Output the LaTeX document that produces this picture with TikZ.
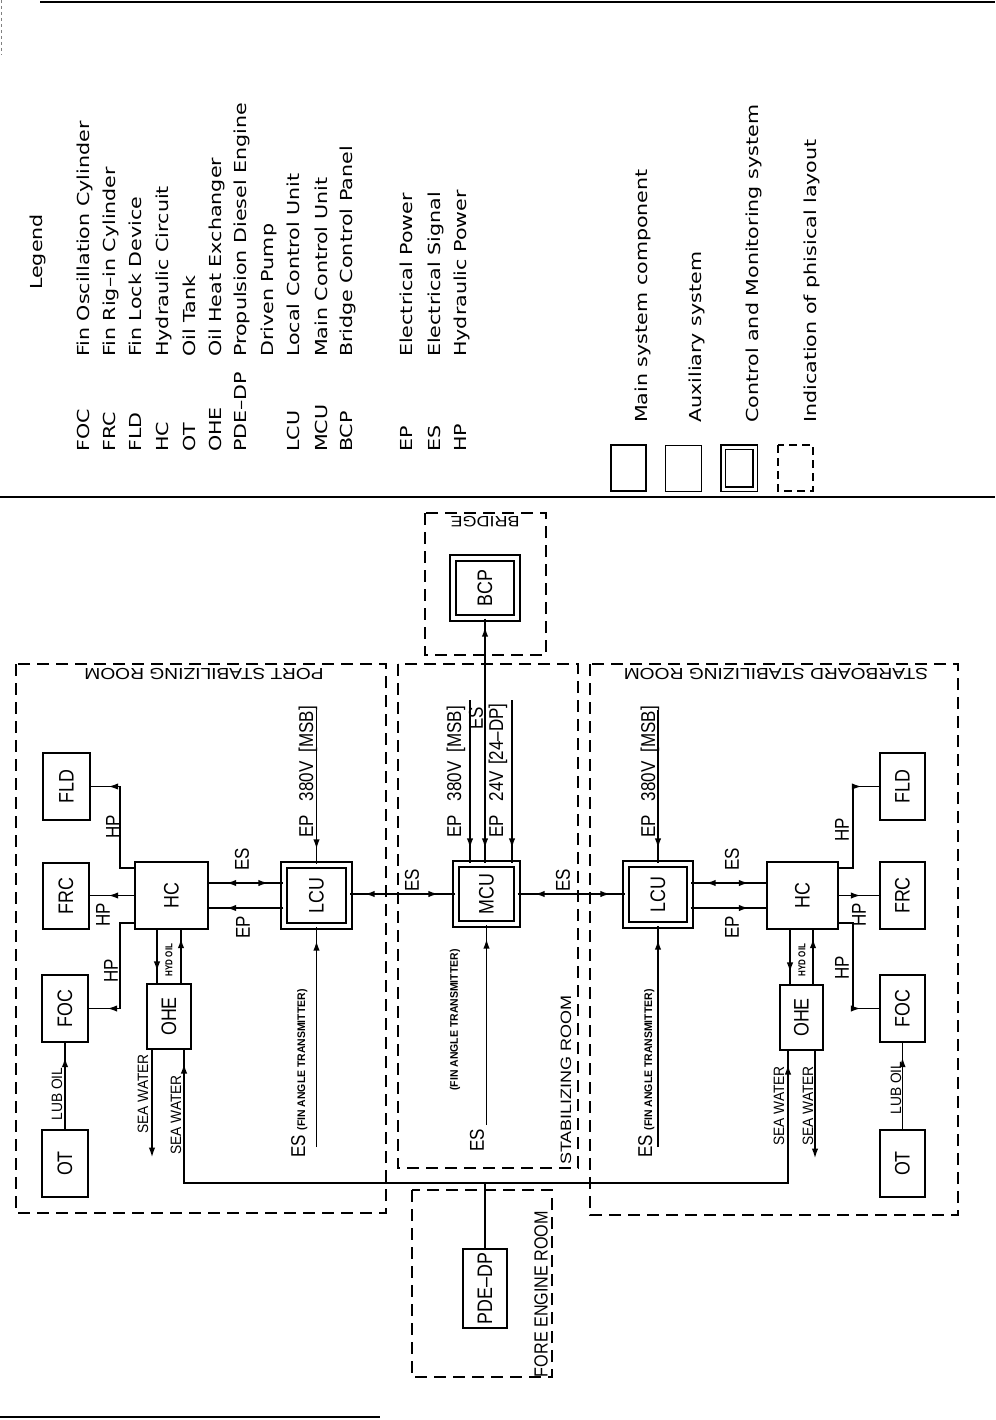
\documentclass[tikz,border=0pt]{standalone}
\usepackage{fontspec}
\usepackage{graphicx}
\usetikzlibrary{arrows.meta,decorations.markings}
\newfontfamily\cadf{Liberation Sans}[FakeStretch=0.85]
\newfontfamily\roomf{Liberation Sans}[FakeStretch=1.2]
\newfontfamily\legf{DejaVu Sans}[FakeStretch=1.25]
\newfontfamily\smf{Liberation Sans}[FakeStretch=0.95]
\newfontfamily\smnf{Liberation Sans}[FakeStretch=0.8]
\newfontfamily\swf{Liberation Sans}[FakeStretch=0.92]
\newcommand\bxf{\cadf\fontsize{21}{21}\selectfont}
\newcommand\lbf{\cadf\fontsize{20}{20}\selectfont}
\newcommand\fat{{\smf\bfseries\fontsize{11}{11}\selectfont (FIN ANGLE TRANSMITTER)}}
\tikzset{>={Latex[length=10pt,width=6.5pt]}}
\begin{document}
\begin{tikzpicture}[x=1pt,y=-1pt,
  wire/.style={line width=1.8pt},
  mk/.style={postaction={decorate,decoration={markings,mark=at position #1 with {\arrow{>}}}}},
  mkr/.style={postaction={decorate,decoration={markings,mark=at position #1 with {\arrowreversed{>}}}}},
  mbox/.style 2 args={draw,line width=2.4pt,minimum width=#1pt,minimum height=#2pt,inner sep=0pt,font=\bxf},
  abox/.style 2 args={draw,line width=1.1pt,minimum width=#1pt,minimum height=#2pt,inner sep=0pt,font=\bxf},
  cbox/.style 2 args={draw,line width=1.4pt,double,double distance=4.6pt,minimum width=#1pt,minimum height=#2pt,inner sep=0pt,font=\bxf},
  room/.style={draw,dash pattern=on 12pt off 7pt,line width=1.5pt},
  lbl/.style={font=\lbf,rotate=90,inner sep=0pt},
  swl/.style={font=\swf\fontsize{15}{15}\selectfont,rotate=90,inner sep=0pt},
  ttl/.style={font=\roomf\fontsize{16}{16}\selectfont,inner sep=0pt},
  leg/.style={font=\legf\fontsize{16.5}{16.5}\selectfont,rotate=90,inner sep=0pt,anchor=base west},
  hyd/.style={font=\smnf\bfseries\fontsize{10}{10}\selectfont,rotate=90,inner sep=0pt}
]
\useasboundingbox (0,0) rectangle (995,1420);

% frame lines
\draw[line width=2pt] (40,2) -- (995,2);
\draw[line width=0.6pt,dashed,gray] (1,0) -- (1,55);
\draw[line width=2.6pt] (0,497) -- (995,497);
\draw[line width=2.6pt] (0,1417) -- (380,1417);

% ---------- legend ----------
\node[leg,anchor=center] (legT) at (38,252) {Legend};
\foreach \x/\a/\d in {83/FOC/Fin Oscillation Cylinder,109/FRC/Fin Rig–in Cylinder,135/FLD/Fin Lock Device,162/HC/Hydraulic Circuit,189/OT/Oil Tank,215/OHE/Oil Heat Exchanger,240/PDE–DP/Propulsion Diesel Engine,293/LCU/Local Control Unit,321/MCU/Main Control Unit,346/BCP/Bridge Control Panel,406/EP/Electrical Power,434/ES/Electrical Signal,460/HP/Hydraulic Power}{
  \node[leg] (ab\x) at (\x+6,452) {\a};
  \node[leg] (de\x) at (\x+6,357) {\d};
}
\node[leg] (de267) at (273,357) {Driven Pump};
\draw[line width=2.4pt] (611,445) rectangle (646,491);
\draw[line width=1pt] (665,445) rectangle (701,491);
\draw[line width=1.1pt,double,double distance=3pt] (723,447) rectangle (755,489);
\draw[line width=1.4pt,dash pattern=on 8pt off 5pt] (778,445) rectangle (813,491);
\node[leg] (lg1) at (647,423) {Main system component};
\node[leg] (lg2) at (701,423) {Auxiliary system};
\node[leg] (lg3) at (758,423) {Control and Monitoring system};
\node[leg] (lg4) at (816,423) {Indication of phisical layout};

% ---------- rooms ----------
\draw[room] (16,664) rectangle (386,1213);
\draw[room] (398,664) rectangle (578,1168);
\draw[room] (425,513) rectangle (546,655);
\draw[room] (590,664) rectangle (958,1215);
\draw[room] (412,1190) rectangle (552,1377);
\node[ttl,rotate=180] (tPort) at (204,674) {PORT STABILIZING ROOM};
\node[ttl,rotate=180] (tStar) at (776,674) {STARBOARD STABILIZING ROOM};
\node[ttl,rotate=180,font=\roomf\fontsize{15}{15}\selectfont] (tBridge) at (485,522) {BRIDGE};
\node[ttl,rotate=90,font=\roomf\fontsize{15}{15}\selectfont] (tMid) at (566,1080) {STABILIZING ROOM};
\node[ttl,rotate=90,font=\cadf\fontsize{19}{19}\selectfont] (tFore) at (541,1294) {FORE ENGINE ROOM};

% ---------- port nodes ----------
\node[mbox={47}{67}] (fldP) at (66.5,786.5) {\rotatebox{90}{FLD}};
\node[mbox={46}{66}] (frcP) at (66,896) {\rotatebox{90}{FRC}};
\node[mbox={46}{67}] (focP) at (65,1008.5) {\rotatebox{90}{FOC}};
\node[abox={46}{67}] (otP) at (65,1163.5) {\rotatebox{90}{OT}};
\node[mbox={73}{67}] (hcP) at (171.5,895.5) {\rotatebox{90}{HC}};
\node[abox={44}{65}] (oheP) at (169,1016.5) {\rotatebox{90}{OHE}};
\node[cbox={65}{61}] (lcuP) at (316.5,895.5) {\rotatebox{90}{LCU}};

% ---------- middle nodes ----------
\node[cbox={61}{60}] (mcu) at (486.5,894) {\rotatebox{90}{MCU}};
\node[cbox={64}{60}] (bcp) at (485,588) {\rotatebox{90}{BCP}};
\node[abox={44}{79}] (pde) at (485,1288.5) {\rotatebox{90}{PDE–DP}};

% ---------- starboard nodes ----------
\node[cbox={64}{61}] (lcuS) at (658,894.5) {\rotatebox{90}{LCU}};
\node[mbox={71}{67}] (hcS) at (802.5,895.5) {\rotatebox{90}{HC}};
\node[mbox={45}{67}] (fldS) at (902.5,786.5) {\rotatebox{90}{FLD}};
\node[mbox={45}{67}] (frcS) at (902.5,895.5) {\rotatebox{90}{FRC}};
\node[mbox={45}{67}] (focS) at (902.5,1008.5) {\rotatebox{90}{FOC}};
\node[abox={45}{67}] (otS) at (902.5,1163.5) {\rotatebox{90}{OT}};
\node[abox={43}{65}] (oheS) at (801.5,1017.5) {\rotatebox{90}{OHE}};

% ---------- port connectors ----------
\draw[wire,mk=-17pt] ([yshift=-7pt]hcP.north west) -- ++(-14,0) |- (fldP.east);
\draw[wire,mk=-18pt] (hcP.west) -- (hcP.west -| frcP.east);
\draw[wire,mk=-18pt] ([yshift=7pt]hcP.south west) -- ++(-14,0) |- (focP.east);
\draw[wire,mk=-14pt] (otP.north) -- (focP.south);
\coordinate (hydPl) at ([xshift=-12pt]oheP.north);
\coordinate (hydPr) at ([xshift=12pt]oheP.north);
\draw[wire,mk=-12pt] (hydPl |- hcP.south) -- (hydPl);
\draw[wire,mk=-8pt] (hydPr) -- (hydPr |- hcP.south);
\coordinate (swbus) at (485,1183);
\draw[wire] (pde.north) -- (swbus);
\coordinate (swPin) at ([xshift=15pt]oheP.south);
\draw[wire,mk=-14pt] (swbus) -| (swPin);
\coordinate (swPo) at ([xshift=-17pt]oheP.south);
\draw[wire,->] (swPo) -- ++(0,108);
\coordinate (esHP) at ([yshift=12.5pt]hcP.east);
\draw[wire,mk=-15pt,mkr=17pt] (esHP) -- (esHP -| lcuP.west);
\coordinate (epHP) at ([yshift=-12.5pt]hcP.east);
\draw[wire,mk=-17pt] (epHP -| lcuP.west) -- (epHP);
\coordinate (epP) at (316.5,710);
\draw[wire,mk=-15pt] (epP) -- (lcuP.north);
\coordinate (esP) at (316.5,1147);
\draw[wire,mk=-14pt] (esP) -- (lcuP.south);
\draw[wire,mk=-15pt,mkr=17pt] (mcu.west) -- (mcu.west -| lcuP.east);

% ---------- middle connectors ----------
\coordinate (epM1) at (470,700);
\draw[wire,mk=-15pt] (epM1) -- (epM1 |- mcu.north);
\draw[wire,mk=-15pt,mkr=8pt] (bcp.south) -- (bcp.south |- mcu.north);
\coordinate (epM2) at (512,700);
\draw[wire,mk=-15pt] (epM2) -- (epM2 |- mcu.north);
\coordinate (esM) at (486.5,1125);
\draw[wire,mk=-14pt] (esM) -- (mcu.south);
\draw[wire,mk=-15pt,mkr=17pt] (mcu.east) -- (mcu.east -| lcuS.west);

% ---------- starboard connectors ----------
\coordinate (esHS) at ([yshift=12.5pt]hcS.west);
\draw[wire,mk=-15pt,mkr=17pt] (esHS) -- (esHS -| lcuS.east);
\coordinate (epHS) at ([yshift=-12.5pt]hcS.west);
\draw[wire,mk=-17pt] (epHS -| lcuS.east) -- (epHS);
\draw[wire,mk=-17pt] ([yshift=-7pt]hcS.north east) -- ++(14,0) |- (fldS.west);
\draw[wire,mk=-18pt] (hcS.east) -- (hcS.east -| frcS.west);
\draw[wire,mk=-18pt] ([yshift=7pt]hcS.south east) -- ++(14,0) |- (focS.west);
\draw[wire,mk=-14pt] (otS.north) -- (focS.south);
\coordinate (hydSl) at ([xshift=-11.5pt]oheS.north);
\coordinate (hydSr) at ([xshift=11.5pt]oheS.north);
\draw[wire,mk=-12pt] (hydSl |- hcS.south) -- (hydSl);
\draw[wire,mk=-8pt] (hydSr) -- (hydSr |- hcS.south);
\coordinate (swSin) at ([xshift=-13.5pt]oheS.south);
\draw[wire,mk=-14pt] (swbus) -| (swSin);
\coordinate (swSo) at ([xshift=13.5pt]oheS.south);
\draw[wire,->] (swSo) -- ++(0,108);
\coordinate (epS) at (658,710);
\draw[wire,mk=-15pt] (epS) -- (lcuS.north);
\coordinate (esS) at (658,1147);
\draw[wire,mk=-14pt] (esS) -- (lcuS.south);

% ---------- labels ----------
\node[lbl] (lHP1) at (113,827) {HP};
\node[lbl] (lHP2) at (103,915) {HP};
\node[lbl] (lHP3) at (111,971) {HP};
\node[swl] (lLub) at (57,1094) {LUB OIL};
\node[hyd] (lHyd) at (169,960) {HYD OIL};
\node[swl] (lSw1) at (143,1094) {SEA WATER};
\node[swl] (lSw2) at (176,1115) {SEA WATER};
\node[lbl] (lES1) at (242,859) {ES};
\node[lbl] (lEP1) at (243,927) {EP};
\node[lbl,anchor=base west] (lEPP) at (313,838) {EP\hspace{14pt}380V\hspace{9pt}[MSB]};
\node[lbl,anchor=base west] (lFAP) at (305,1158) {ES \fat};
\node[lbl] (lES2) at (412,880) {ES};
\node[lbl] (lES3) at (563,880) {ES};
\node[lbl,anchor=base west] (lEPM1) at (461,838) {EP\hspace{14pt}380V\hspace{9pt}[MSB]};
\node[lbl] (lESM) at (476,718) {ES};
\node[lbl,anchor=base west] (lEPM2) at (503,838) {EP\hspace{14pt}24V\hspace{6pt}[24–DP]};
\node[rotate=90,inner sep=0pt] (lFAM) at (455,1020) {\fat};
\node[lbl] (lESM2) at (477,1140) {ES};
\node[lbl,anchor=base west] (lEPS) at (655,838) {EP\hspace{14pt}380V\hspace{9pt}[MSB]};
\node[lbl,anchor=base west] (lFAS) at (652,1158) {ES \fat};
\node[lbl] (lES4) at (732,859) {ES};
\node[lbl] (lEP4) at (732,927) {EP};
\node[lbl] (lHP4) at (842,830) {HP};
\node[lbl] (lHP5) at (859,915) {HP};
\node[lbl] (lHP6) at (842,968) {HP};
\node[swl] (lLubS) at (896,1088) {LUB OIL};
\node[hyd] (lHydS) at (802,960) {HYD OIL};
\node[swl] (lSw3) at (779,1106) {SEA WATER};
\node[swl] (lSw4) at (808,1106) {SEA WATER};
\end{tikzpicture}
\end{document}
